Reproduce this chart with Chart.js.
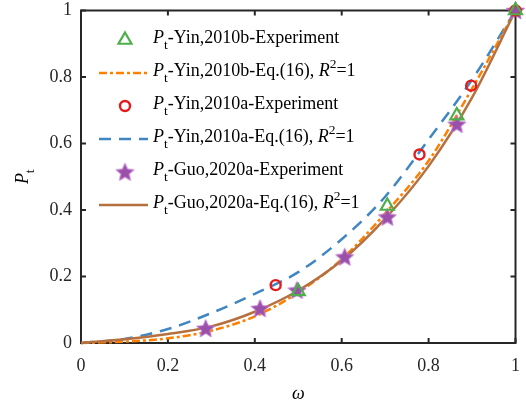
<!DOCTYPE html>
<html>
<head>
<meta charset="utf-8">
<script src="https://cdn.jsdelivr.net/npm/chart.js@4.4.1/dist/chart.umd.min.js"></script>
<style>
    html, body { margin: 0; padding: 0; background: #fff; }
    #grafico { display: block; }
</style>
</head>
<body>
<canvas id="grafico" width="526" height="403"></canvas>
<script>
// ---- dados ----
const omegaFit = [0, 0.1, 0.2, 0.3, 0.4, 0.5, 0.6, 0.7, 0.8, 0.9, 1];
const yinBFit  = [0, 0.004, 0.014, 0.037, 0.08, 0.152, 0.252, 0.39, 0.548, 0.765, 1];
const yinAFit  = [0, 0.012, 0.042, 0.09, 0.148, 0.213, 0.312, 0.44, 0.612, 0.792, 1];
const guoFit   = [0, 0.011, 0.027, 0.05, 0.094, 0.158, 0.248, 0.374, 0.532, 0.738, 1];

const yinBExpW = [0.5, 0.705, 0.865, 1];
const yinBExpP = [0.155, 0.412, 0.684, 1];
const yinAExpW = [0.448, 0.779, 0.898, 1];
const yinAExpP = [0.174, 0.567, 0.774, 1];
const guoExpW  = [0.287, 0.412, 0.497, 0.607, 0.705, 0.865, 1];
const guoExpP  = [0.044, 0.104, 0.159, 0.259, 0.379, 0.658, 1];

const tickValues = [0, 0.2, 0.4, 0.6, 0.8, 1];
const tickLabels = ["0", "0.2", "0.4", "0.6", "0.8", "1"];

const legendNames = [
    [["P", "i"], ["t", "sub"], ["-Yin,2010b-Experiment", "n"]],
    [["P", "i"], ["t", "sub"], ["-Yin,2010b-Eq.(16), ", "n"], ["R", "i"], ["2", "sup"], ["=1", "n"]],
    [["P", "i"], ["t", "sub"], ["-Yin,2010a-Experiment", "n"]],
    [["P", "i"], ["t", "sub"], ["-Yin,2010a-Eq.(16), ", "n"], ["R", "i"], ["2", "sup"], ["=1", "n"]],
    [["P", "i"], ["t", "sub"], ["-Guo,2020a-Experiment", "n"]],
    [["P", "i"], ["t", "sub"], ["-Guo,2020a-Eq.(16), ", "n"], ["R", "i"], ["2", "sup"], ["=1", "n"]]
];

const FONTE = "'Liberation Serif', 'Times New Roman', serif";
const pares = (xs, ys) => xs.map((x, i) => ({ x: x, y: ys[i] }));

// estrela de 5 pontas (o "star" do Chart.js e um asterisco)
function criaEstrela(cor, r) {
    const c = document.createElement("canvas");
    const s = Math.ceil(r * 2 + 4);
    c.width = s; c.height = s;
    const g = c.getContext("2d");
    g.beginPath();
    for (let i = 0; i < 10; i++) {
        const rr = i % 2 === 0 ? r : r * 0.45;
        const a = -Math.PI / 2 + i * Math.PI / 5;
        g.lineTo(s / 2 + rr * Math.cos(a), s / 2 + rr * Math.sin(a) + r * 0.08);
    }
    g.closePath();
    g.fillStyle = cor;
    g.fill();
    g.strokeStyle = "rgba(190,120,205,0.9)";
    g.lineWidth = 1;
    g.stroke();
    return c;
}
const estrela = criaEstrela("#9a4fa8", 9.5);

const datasets = [
    { label: "yinBExp", data: pares(yinBExpW, yinBExpP), showLine: false,
      pointStyle: "triangle", pointRadius: 7.5, borderWidth: 2.2,
      borderColor: "#4daf4a", backgroundColor: "rgba(0,0,0,0)", order: 0 },
    { label: "yinBFit", data: pares(omegaFit, yinBFit), showLine: true, pointRadius: 0,
      borderColor: "#ff7f00", borderWidth: 2.5, borderDash: [8, 3, 3, 3],
      cubicInterpolationMode: "monotone", order: 2 },
    { label: "yinAExp", data: pares(yinAExpW, yinAExpP), showLine: false,
      pointStyle: "circle", pointRadius: 5, borderWidth: 2.4,
      borderColor: "#e41a1c", backgroundColor: "rgba(0,0,0,0)", order: 0 },
    { label: "yinAFit", data: pares(omegaFit, yinAFit), showLine: true, pointRadius: 0,
      borderColor: "#3f86c2", borderWidth: 2.5, borderDash: [12, 8],
      cubicInterpolationMode: "monotone", order: 3 },
    { label: "guoExp", data: pares(guoExpW, guoExpP), showLine: false,
      pointStyle: estrela, pointRadius: 9.5,
      borderColor: "#9a4fa8", backgroundColor: "#9a4fa8", order: 0 },
    { label: "guoFit", data: pares(omegaFit, guoFit), showLine: true, pointRadius: 0,
      borderColor: "#b5703f", borderWidth: 2.5,
      cubicInterpolationMode: "monotone", order: 1 }
];

function textoRico(ctx, x, y, partes, tam) {
    let cx = x;
    partes.forEach(([t, tipo]) => {
        let f = tam, dy = 0, est = "";
        if (tipo === "i") est = "italic ";
        if (tipo === "sub") { f = tam * 0.75; dy = tam * 0.42; }
        if (tipo === "sup") { f = tam * 0.75; dy = -tam * 0.38; }
        ctx.font = est + f + "px " + FONTE;
        ctx.fillText(t, cx, y + dy);
        cx += ctx.measureText(t).width;
    });
    return cx - x;
}

const moldura = {
    id: "moldura",
    beforeDatasetsDraw(chart) {
        const ctx = chart.ctx, a = chart.chartArea;
        const sx = chart.scales.x, sy = chart.scales.y;
        ctx.save();
        ctx.strokeStyle = "#262626";
        ctx.lineWidth = 2;
        ctx.strokeRect(a.left, a.top, a.right - a.left, a.bottom - a.top);
        ctx.beginPath();
        tickValues.forEach(v => {
            const px = sx.getPixelForValue(v), py = sy.getPixelForValue(v);
            ctx.moveTo(px, a.bottom); ctx.lineTo(px, a.bottom - 5);
            ctx.moveTo(px, a.top); ctx.lineTo(px, a.top + 5);
            ctx.moveTo(a.left, py); ctx.lineTo(a.left + 5, py);
            ctx.moveTo(a.right, py); ctx.lineTo(a.right - 5, py);
        });
        ctx.stroke();
        ctx.restore();
    },
    afterDraw(chart) {
        const ctx = chart.ctx, a = chart.chartArea;
        ctx.save();
        ctx.fillStyle = "#000";
        ctx.textBaseline = "middle";

        // legenda
        const x0 = 99, x1 = 148, xm = 125, xt = 153, y0 = 40, passo = 33;
        legendNames.forEach((nome, i) => {
            const ds = chart.data.datasets[i];
            const y = y0 + i * passo;
            ctx.save();
            ctx.strokeStyle = ds.borderColor;
            ctx.lineWidth = ds.borderWidth || 1;
            if (ds.showLine) {
                ctx.setLineDash(ds.borderDash || []);
                ctx.beginPath(); ctx.moveTo(x0, y); ctx.lineTo(x1, y); ctx.stroke();
            } else if (typeof ds.pointStyle !== "string") {
                const img = ds.pointStyle;
                ctx.drawImage(img, xm - img.width / 2, y - img.height / 2);
            } else {
                ctx.beginPath();
                if (ds.pointStyle === "circle") {
                    ctx.arc(xm, y, ds.pointRadius, 0, Math.PI * 2);
                } else {
                    for (let k = 0; k < 3; k++) {
                        const ang = -Math.PI / 2 + k * 2 * Math.PI / 3;
                        ctx.lineTo(xm + ds.pointRadius * Math.cos(ang), y + ds.pointRadius * Math.sin(ang));
                    }
                    ctx.closePath();
                }
                ctx.stroke();
            }
            ctx.restore();
            textoRico(ctx, xt, y - 2, nome, 18);
        });

        // titulos dos eixos
        ctx.textAlign = "left";
        ctx.font = "italic 18px " + FONTE;
        const wOmega = ctx.measureText("\u03c9").width;
        ctx.fillText("\u03c9", (a.left + a.right) / 2 - wOmega / 2, 394);

        ctx.save();
        ctx.translate(27, (a.top + a.bottom) / 2);
        ctx.rotate(-Math.PI / 2);
        ctx.font = "italic 18px " + FONTE;
        const wP = ctx.measureText("P").width;
        ctx.font = "13.5px " + FONTE;
        const wt = ctx.measureText("t").width;
        ctx.translate(-(wP + wt) / 2, 0);
        textoRico(ctx, 0, -4, [["P", "i"], ["t", "sub"]], 18);
        ctx.restore();

        ctx.restore();
    }
};

const rotulo = (v) => tickLabels[tickValues.indexOf(v)];

new Chart(document.getElementById("grafico"), {
    type: "scatter",
    data: { datasets: datasets },
    plugins: [moldura],
    options: {
        responsive: false,
        animation: false,
        devicePixelRatio: 1,
        clip: false,
        layout: { padding: { top: 10, right: 4, left: 0, bottom: 0 } },
        plugins: { legend: { display: false }, tooltip: { enabled: false } },
        scales: {
            x: {
                type: "linear", min: 0, max: 1,
                afterFit: s => { s.height = 60; s.paddingLeft = 0; s.paddingRight = 0; },
                afterBuildTicks: s => { s.ticks = tickValues.map(v => ({ value: v })); },
                grid: { display: false, drawTicks: false },
                border: { display: false },
                ticks: { color: "#262626", padding: 12, callback: rotulo,
                         font: { family: FONTE, size: 18 } }
            },
            y: {
                type: "linear", min: 0, max: 1,
                afterFit: s => { s.width = 81; s.paddingTop = 0; s.paddingBottom = 0; },
                afterBuildTicks: s => { s.ticks = tickValues.map(v => ({ value: v })); },
                grid: { display: false, drawTicks: false },
                border: { display: false },
                ticks: { color: "#262626", padding: 9, callback: rotulo,
                         font: { family: FONTE, size: 18 } }
            }
        }
    }
});
</script>
</body>
</html>
